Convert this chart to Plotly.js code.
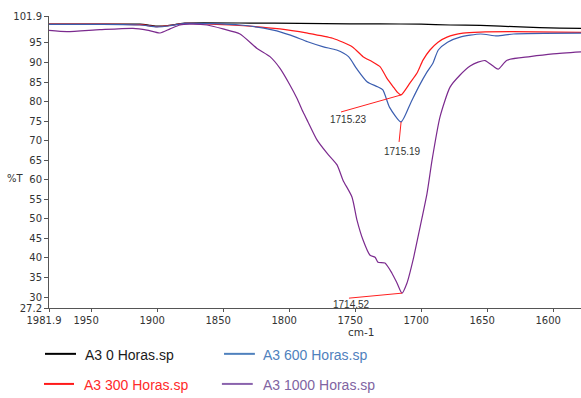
<!DOCTYPE html>
<html><head><meta charset="utf-8">
<script src="https://cdn.plot.ly/plotly-3.0.1.min.js"></script>
<style>html,body{margin:0;padding:0;background:#fff}#chart{width:581px;height:398px}</style>
</head><body><div id="chart"></div>
<script>
// ---- data ----
const seriesNames = ['A3 0 Horas.sp', 'A3 300 Horas.sp', 'A3 600 Horas.sp', 'A3 1000 Horas.sp'];
const seriesColors = ['#000000', '#ff1a1a', '#3b5eb0', '#7b2a8e'];
const legendTextColors = ['#1a1a1a', '#ff2a2a', '#4f81bd', '#8064a2'];

const wn0 = [1981.9, 1943, 1913, 1905, 1900, 1893, 1885, 1879, 1830, 1792, 1754, 1731, 1700, 1678, 1655, 1625, 1595, 1578.9];
const t0  = [99.85, 99.85, 99.8, 99.5, 99.3, 99.4, 99.8, 100.1, 100.1, 100.0, 99.9, 99.9, 99.8, 99.6, 99.5, 99.1, 98.8, 98.75];

const wn300 = [1981.9, 1943, 1913, 1900, 1890, 1879, 1845, 1807, 1786, 1767, 1752, 1744, 1737, 1731, 1726, 1720.5, 1718, 1715.23, 1708.4, 1703.1, 1698.6, 1693.3, 1687.2, 1680.4, 1668.3, 1655.4, 1630.4, 1578.9];
const t300  = [99.85, 99.85, 99.7, 99.2, 99.5, 100.0, 99.6, 98.6, 97.5, 96.2, 94.0, 91.5, 90.2, 88.9, 86.0, 83.5, 82.4, 81.7, 84.8, 87.3, 90.6, 93.2, 95.2, 96.5, 97.5, 97.8, 97.9, 97.7];

const wn600 = [1981.9, 1943, 1913, 1900, 1890, 1879, 1837, 1812, 1799, 1786, 1774, 1764, 1755, 1749, 1741, 1733, 1729, 1724, 1715.19, 1708, 1702, 1695.5, 1691, 1687, 1680, 1670.5, 1655, 1642.5, 1630, 1578.9];
const t600  = [99.75, 99.75, 99.6, 99.1, 99.4, 100.0, 99.6, 98.3, 97.0, 95.3, 94.0, 93.2, 91.5, 88.5, 85.1, 83.8, 83.0, 78.6, 74.8, 79.6, 83.7, 87.6, 89.9, 93.2, 95.2, 96.5, 97.3, 96.8, 97.3, 97.5];

const wn1000 = [1981.9, 1968.3, 1943.3, 1918.3, 1907.7, 1897.8, 1890.2, 1882.7, 1875.1, 1862.2, 1850.1, 1837.2, 1824.3, 1814.5, 1806.9, 1799.3, 1794, 1789.5, 1785.7, 1778.9, 1771.3, 1763.7, 1759.2, 1752.4, 1748.6, 1744, 1738.7, 1734.9, 1732.7, 1727.4, 1722.1, 1718.3, 1714.52, 1710.7, 1706.1, 1700.8, 1695.5, 1691.7, 1685.7, 1678.1, 1670.5, 1662.9, 1656.9, 1651.6, 1645.5, 1641.7, 1634.9, 1617.5, 1600.1, 1578.9];
const t1000  = [98.2, 97.9, 98.4, 98.75, 98.3, 97.55, 98.6, 99.6, 99.8, 99.6, 98.6, 97.3, 93.6, 91.5, 88.5, 84.2, 80.8, 77.4, 74.8, 70.2, 66.8, 63.8, 59.9, 55.6, 49.7, 44.6, 40.7, 40.2, 38.9, 38.7, 36.1, 33.6, 31.0, 33.6, 39.5, 47.9, 56.6, 65.1, 76.1, 83.7, 86.8, 89.1, 90.1, 90.5, 89.1, 88.3, 90.6, 91.5, 92.2, 92.7];

const peakLabels = ['1715.23', '1715.19', '1714.52'];
const peakWn = [1715.23, 1715.19, 1714.52];
const peakT = [81.7, 74.8, 31.0];

const xTickVals = [1981.9, 1950, 1900, 1850, 1800, 1750, 1700, 1650, 1600];
const xTickText = ['1981.9', '1950', '1900', '1850', '1800', '1750', '1700', '1650', '1600'];
const yTickVals = [27.2, 30, 35, 40, 45, 50, 55, 60, 65, 70, 75, 80, 85, 90, 95, 101.9];
const yTickText = ['27.2', '30', '35', '40', '45', '50', '55', '60', '65', '70', '75', '80', '85', '90', '95', '101.9'];
const xRange = [1981.9, 1578.9];
const yRange = [27.2, 101.9];

// ---- chart ----
const xs = [wn0, wn300, wn600, wn1000];
const ys = [t0, t300, t600, t1000];
const traces = xs.map((x, i) => ({
  x: x, y: ys[i], type: 'scatter', mode: 'lines', name: seriesNames[i],
  line: {color: seriesColors[i], width: 1.2, shape: 'spline', smoothing: 0.6},
  showlegend: false, hoverinfo: 'skip'
}));

const tickFont = {family: 'DejaVu Sans', size: 10, color: '#333'};

// peak leader lines (pixel offsets from peak points)
const leaderDx = [-60, -2, -53];
const leaderDy = [-17, -20, -5];
const labelDx = [-53, 1, -50];
const labelDy = [-25, -30, -11];

const shapes = [];
const annotations = [];
peakLabels.forEach((lab, i) => {
  shapes.push({type: 'line', xref: 'x', yref: 'y', xsizemode: 'pixel', ysizemode: 'pixel',
    xanchor: peakWn[i], yanchor: peakT[i], x0: 0, y0: 0, x1: leaderDx[i], y1: leaderDy[i],
    line: {color: '#ff2020', width: 1}});
  annotations.push({x: peakWn[i], y: peakT[i], xref: 'x', yref: 'y', text: lab, showarrow: false,
    xshift: labelDx[i], yshift: labelDy[i], font: {family: 'Liberation Sans', size: 10, color: '#333'}});
});

// axis titles
annotations.push({xref: 'paper', yref: 'paper', x: -0.063, y: 0.442, text: '%T', showarrow: false,
  xanchor: 'center', yanchor: 'middle', font: {family: 'DejaVu Sans', size: 10, color: '#333'}});
annotations.push({xref: 'paper', yref: 'paper', x: 0.586, y: -0.082, text: 'cm-1', showarrow: false,
  xanchor: 'center', yanchor: 'middle', font: {family: 'DejaVu Sans', size: 10.5, color: '#333'}});

// manual legend (2x2, text coloured like its line)
const legOrder = [0, 2, 1, 3];
const legLineX = [[-0.0075, 0.0508], [0.329, 0.387], [-0.0094, 0.047], [0.325, 0.383]];
const legTextX = [0.0639, 0.3985, 0.062, 0.3985];
const legY = [-0.161, -0.161, -0.264, -0.264];
legOrder.forEach((si, k) => {
  shapes.push({type: 'line', xref: 'paper', yref: 'paper', x0: legLineX[k][0], x1: legLineX[k][1],
    y0: legY[k] + 0.004, y1: legY[k] + 0.004, line: {color: si === 3 ? '#8a63ad' : (si === 2 ? '#4f81bd' : seriesColors[si]), width: 2}});
  annotations.push({xref: 'paper', yref: 'paper', x: legTextX[k], y: legY[k], text: seriesNames[si],
    showarrow: false, xanchor: 'left', yanchor: 'middle',
    font: {family: 'Liberation Sans', size: 14, color: legendTextColors[si]}});
});

const layout = {
  width: 581, height: 398,
  margin: {l: 49, r: 0, t: 16, b: 90, pad: 0},
  paper_bgcolor: '#fff', plot_bgcolor: '#fff',
  showlegend: false,
  xaxis: {range: xRange, autorange: false, tickmode: 'array', tickvals: xTickVals, ticktext: xTickText,
    showgrid: false, zeroline: false, showline: true, linecolor: '#555', linewidth: 1,
    ticks: 'outside', ticklen: 3, tickcolor: '#555', tickfont: tickFont, ticklabelshift: 5},
  yaxis: {range: yRange, autorange: false, tickmode: 'array', tickvals: yTickVals, ticktext: yTickText,
    showgrid: false, zeroline: false, showline: true, linecolor: '#555', linewidth: 1,
    ticks: 'outside', ticklen: 4, tickcolor: '#555', tickfont: tickFont},
  shapes: shapes,
  annotations: annotations
};

Plotly.newPlot('chart', traces, layout, {displayModeBar: false, staticPlot: true});
</script>
</body></html>
